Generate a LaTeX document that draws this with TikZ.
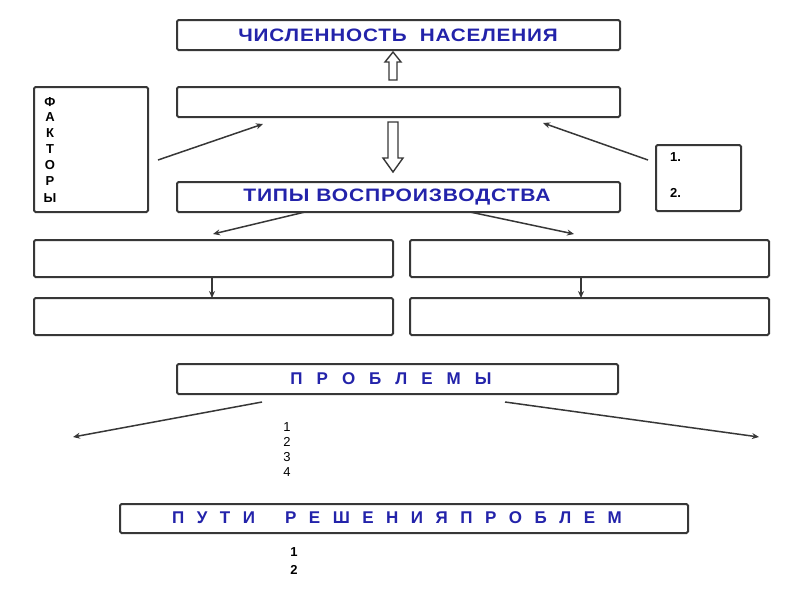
\documentclass[tikz,border=0pt]{standalone}
\usepackage{fontspec}
\setmainfont{Liberation Sans}
\usetikzlibrary{arrows.meta}
\definecolor{hblue}{RGB}{35,35,170}
\definecolor{bord}{RGB}{55,55,55}
\tikzset{
  frame/.style={draw=bord, line width=2pt, rounded corners=1.5pt, fill=white},
  head/.style={font=\bfseries\fontsize{18}{20}\selectfont, text=hblue},
  conn/.style={draw=bord, line width=1.5pt, -{Stealth[length=7pt,width=6pt]}},
  hollow/.style={draw=bord, line width=1.4pt, fill=white},
  num/.style={font=\bfseries\fontsize{13}{14}\selectfont, inner sep=0pt},
  let/.style={font=\bfseries\fontsize{13}{14}\selectfont, inner sep=0pt}
}
\begin{document}
\begin{tikzpicture}[x=1pt,y=-1pt]
\useasboundingbox (0,0) rectangle (800,600);
% boxes
\draw[frame] (177,20) rectangle (620,50);
\node[head] (t1) at (398,35) {\scalebox{1.15}[1]{\addfontfeature{LetterSpace=4}ЧИСЛЕННОСТЬ\ \ НАСЕЛЕНИЯ}};
\draw[frame] (177,87) rectangle (620,117);
\draw[frame] (177,182) rectangle (620,212);
\node[head] (t3) at (397,197) {\scalebox{1.17}[1]{\addfontfeature{LetterSpace=4}ТИПЫ ВОСПРОИЗВОДСТВА}};
\draw[frame] (34,87) rectangle (148,212);
\draw[frame] (656,145) rectangle (741,211);
\node[num, anchor=west] (r1) at (670,157) {1.};
\node[num, anchor=west] (r2) at (670,193) {2.};
% factors letters
\foreach \l/\y in {Ф/102,А/117,К/133,Т/149,О/165,Р/181,Ы/198}{
  \node[let] at (50,\y) {\l};
}
% row boxes
\draw[frame] (34,240) rectangle (393,277);
\draw[frame] (410,240) rectangle (769,277);
\draw[frame] (34,298) rectangle (393,335);
\draw[frame] (410,298) rectangle (769,335);
\draw[frame] (177,364) rectangle (618,394);
\node[head, font=\bfseries\fontsize{17}{19}\selectfont] (t4) at (391,379) {П\hspace{14pt}Р\hspace{14pt}О\hspace{14pt}Б\hspace{14pt}Л\hspace{14pt}Е\hspace{14pt}М\hspace{14pt}Ы};
\draw[frame] (120,504) rectangle (688,533);
\node[head, font=\bfseries\fontsize{17}{19}\selectfont] (t5) at (397,518) {П\hspace{12.5pt}У\hspace{12.5pt}Т\hspace{12.5pt}И\hspace{30pt}Р\hspace{12.5pt}Е\hspace{12.5pt}Ш\hspace{12.5pt}Е\hspace{12.5pt}Н\hspace{12.5pt}И\hspace{12.5pt}Я\hspace{12.5pt}П\hspace{12.5pt}Р\hspace{12.5pt}О\hspace{12.5pt}Б\hspace{12.5pt}Л\hspace{12.5pt}Е\hspace{12.5pt}М};
% hollow arrows
\draw[hollow] (389,80) -- (389,62) -- (385,62) -- (393,52) -- (401,62) -- (397,62) -- (397,80) -- cycle;
\draw[hollow] (388,122) -- (388,158) -- (383,158) -- (393,172) -- (403,158) -- (398,158) -- (398,122) -- cycle;
% connectors
\coordinate (f1) at (158,160); \coordinate (f2) at (263,124);
\draw[conn] (f1) -- (f2);
\coordinate (g1) at (648,160); \coordinate (g2) at (543,123);
\draw[conn] (g1) -- (g2);
\coordinate (h1) at (305,212); \coordinate (h2) at (213,234);
\draw[conn] (h1) -- (h2);
\coordinate (k1) at (470,212); \coordinate (k2) at (574,234);
\draw[conn] (k1) -- (k2);
\coordinate (l1) at (212,277); \coordinate (l2) at (212,298);
\draw[conn] (l1) -- (l2);
\coordinate (m1) at (581,277); \coordinate (m2) at (581,298);
\draw[conn] (m1) -- (m2);
\coordinate (p1) at (262,402); \coordinate (p2) at (73,437);
\draw[conn] (p1) -- (p2);
\coordinate (q1) at (505,402); \coordinate (q2) at (759,437);
\draw[conn] (q1) -- (q2);
% numbers
\foreach \n/\y in {1/427,2/442,3/457,4/472}{
  \node[inner sep=0pt, font=\fontsize{13}{14}\selectfont] at (287,\y) {\n};
}
\foreach \n/\y in {1/552,2/570}{
  \node[num] at (294,\y) {\n};
}
\end{tikzpicture}
\end{document}
